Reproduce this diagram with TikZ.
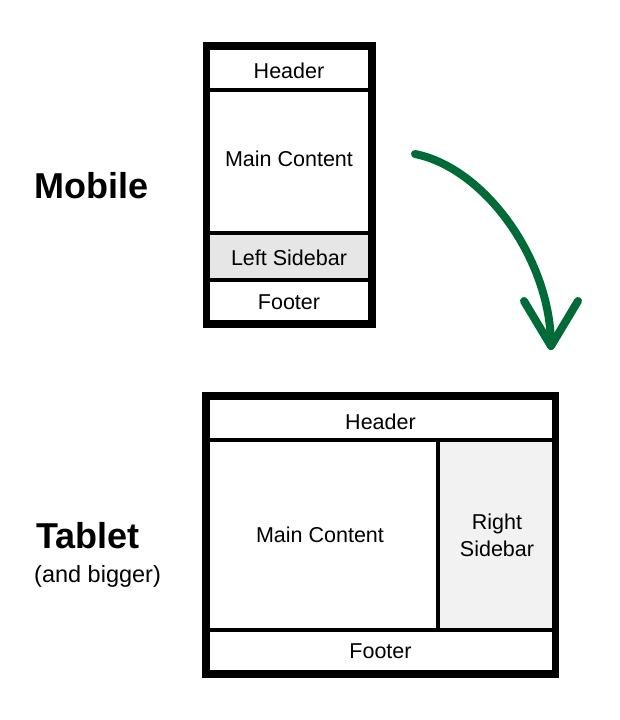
\documentclass[tikz,border=0pt]{standalone}
\usepackage{fontspec}
\setmainfont{Liberation Sans}
\definecolor{arrowgreen}{RGB}{0,107,54}
\definecolor{sidegrayA}{RGB}{230,230,230}
\definecolor{sidegrayB}{RGB}{242,242,242}
\begin{document}
\begin{tikzpicture}[x=1pt,y=-1pt,
  label/.style={inner sep=0pt, align=center, font=\fontsize{21.5}{27}\selectfont},
  sepline/.style={line width=4pt},
  framebox/.style={line width=7.5pt},
  titletext/.style={font=\bfseries\fontsize{36}{40}\selectfont, anchor=west, inner sep=0pt},
  subtext/.style={font=\fontsize{23.5}{27}\selectfont, anchor=west, inner sep=0pt},
  arrowline/.style={draw=arrowgreen, line width=8pt, line cap=round, line join=round}
]
\useasboundingbox (0,0) rectangle (620,720);

% ---------- Mobile ----------
\coordinate (m-nw) at (206.5,46);
\coordinate (m-se) at (372,324);
\fill[sidegrayA] (206.5,233) rectangle (372,280);
\draw[sepline] (206.5,90) -- (372,90);
\draw[sepline] (206.5,233) -- (372,233);
\draw[sepline] (206.5,280) -- (372,280);
\draw[framebox] (m-nw) rectangle (m-se);
\node[label] (mhead) at (289,71) {Header};
\node[label] (mmain) at (289,159) {Main Content};
\node[label] (mside) at (289,258) {Left Sidebar};
\node[label] (mfoot) at (289,302) {Footer};
\node[titletext] (mtitle) at (34,186) {Mobile};

% ---------- Tablet ----------
\coordinate (t-nw) at (206,396);
\coordinate (t-se) at (555.5,674);
\fill[sidegrayB] (438,440) rectangle (555.5,629.5);
\draw[sepline] (206,440) -- (555.5,440);
\draw[sepline] (206,629.5) -- (555.5,629.5);
\draw[sepline] (438,440) -- (438,629.5);
\draw[framebox] (t-nw) rectangle (t-se);
\node[label] (thead) at (380.5,422) {Header};
\node[label] (tmain) at (320,535) {Main Content};
\node[label] (tside) at (497,535) {Right\\Sidebar};
\node[label] (tfoot) at (380.5,651) {Footer};
\node[titletext] (ttitle) at (36,536) {Tablet};
\node[subtext] (tsub) at (34,576) {(and bigger)};

% ---------- Arrow ----------
\coordinate (a0) at (415,154);
\coordinate (tip) at (551,346);
\coordinate (armL) at (524,301);
\coordinate (armR) at (578,301);
\draw[arrowline] (a0) .. controls (485,168) and (551,260) .. (tip);
\draw[arrowline] (armL) -- (tip) -- (armR);
\end{tikzpicture}
\end{document}
